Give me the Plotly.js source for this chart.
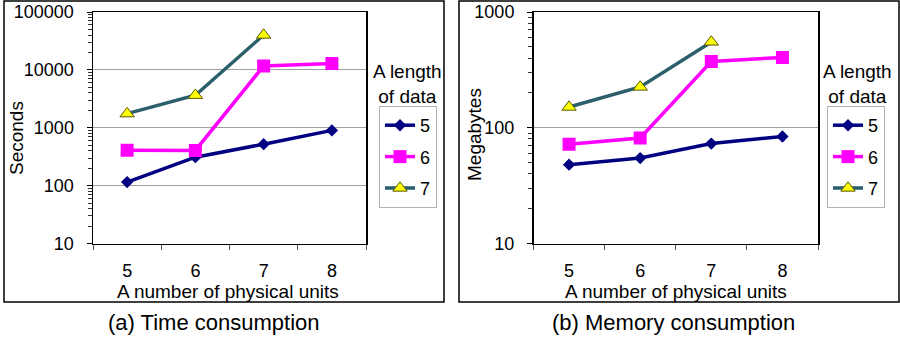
<!DOCTYPE html>
<html><head><meta charset="utf-8">
<script src="https://cdn.plot.ly/plotly-3.0.1.min.js"></script>
<style>html,body{margin:0;padding:0;background:#fff}#chart{width:900px;height:337px}</style>
</head><body><div id="chart"></div>
<script>
// ---- data ----
const units = ['5', '6', '7', '8'];
const seriesNames = ['5', '6', '7'];
const timeLen5 = [115, 310, 520, 900];
const timeLen6 = [410, 405, 11700, 12900];
const timeLen7 = [1750, 3650, 40000];
const memLen5 = [48, 54.7, 73, 84];
const memLen6 = [72, 81.5, 374, 405];
const memLen7 = [151, 225, 551];
const timeTickVals = [10, 100, 1000, 10000, 100000];
const timeTickText = ['10', '100', '1000', '10000', '100000'];
const memTickVals = [10, 100, 1000];
const memTickText = ['10', '100', '1000'];

// ---- styles ----
const FONT = 'Liberation Sans, Arial, sans-serif';
const styles = [
  {color: '#000080', symbol: 'diamond', size: 9.5, lineColor: '#000080'},
  {color: '#FF00FF', symbol: 'square', size: 13, lineColor: '#FF00FF'},
  {color: '#FFFF00', symbol: 'triangle-up', size: 12.5, lineColor: '#2B5F6C'}
];

function mk(y, i, xa, ya, leg) {
  const s = styles[i];
  return {
    type: 'scatter', mode: 'lines+markers',
    x: units.slice(0, y.length), y: y,
    name: seriesNames[i], legend: leg, legendgroup: leg + 'g' + i,
    xaxis: xa, yaxis: ya,
    line: {color: s.lineColor, width: 3.5},
    marker: {symbol: s.symbol, size: s.size, color: s.color,
             line: {color: i === 2 ? '#555500' : s.color, width: i === 2 ? 1 : 0}}
  };
}

const data = [
  mk(timeLen5, 0, 'x', 'y', 'legend'),
  mk(timeLen6, 1, 'x', 'y', 'legend'),
  mk(timeLen7, 2, 'x', 'y', 'legend'),
  mk(memLen5, 0, 'x2', 'y2', 'legend2'),
  mk(memLen6, 1, 'x2', 'y2', 'legend2'),
  mk(memLen7, 2, 'x2', 'y2', 'legend2')
];

const W = 900, H = 337;
const px = v => v / W, py = v => 1 - v / H;

// minor log ticks (2..9 within each decade) for the axes
function minorOf(decades) {
  const out = [];
  decades.slice(0, -1).forEach(d => { for (let k = 2; k <= 9; k++) out.push(d * k); });
  return out;
}

function xax(dom, anchor) {
  return {
    domain: dom, anchor: anchor, type: 'category', categoryorder: 'array', categoryarray: units,
    range: [-0.5, 3.5], tickson: 'boundaries', ticks: 'outside', ticklen: 5,
    tickcolor: '#555', showline: true, linecolor: '#000', linewidth: 1.5, mirror: true,
    showgrid: false, zeroline: false, ticklabelstandoff: 10,
    tickfont: {family: FONT, size: 18, color: '#000'}, fixedrange: true
  };
}
function yax(dom, anchor, rng, tv, tt) {
  return {
    domain: dom, anchor: anchor, type: 'log', range: rng, tickmode: 'array', tickvals: tv, ticktext: tt,
    ticks: 'outside', ticklen: 5, tickcolor: '#000',
    minor: {tickmode: 'array', tickvals: minorOf(tv), ticks: 'outside', ticklen: 4,
            tickcolor: '#333', tickwidth: 1, showgrid: false},
    showline: true, linecolor: '#000', linewidth: 1.5, mirror: true,
    showgrid: true, gridcolor: '#a0a0a0', gridwidth: 1, zeroline: false,
    ticklabelstandoff: 9,
    tickfont: {family: FONT, size: 18, color: '#000'}, fixedrange: true
  };
}

const ydom = [py(243.5), py(12)];
const legBase = {
  bgcolor: 'rgba(0,0,0,0)', bordercolor: '#b0b0b0', borderwidth: 1,
  font: {family: FONT, size: 18, color: '#000'}, tracegroupgap: 5,
  traceorder: 'grouped', xanchor: 'left', yanchor: 'top', itemclick: false
};

const ann = (text, x, y, size, angle) => ({
  text: text, xref: 'paper', yref: 'paper', x: px(x), y: py(y),
  xanchor: 'center', yanchor: 'middle', showarrow: false, textangle: angle || 0,
  font: {family: FONT, size: size, color: '#000'}
});

const layout = {
  width: W, height: H, margin: {l: 0, r: 0, t: 0, b: 0},
  paper_bgcolor: '#fff', plot_bgcolor: '#fff', showlegend: true,
  xaxis: xax([px(93), px(366)], 'y'),
  yaxis: yax(ydom, 'x', [1, 5], timeTickVals, timeTickText),
  xaxis2: xax([px(533.5), px(818)], 'y2'),
  yaxis2: yax(ydom, 'x2', [1, 3], memTickVals, memTickText),
  legend: Object.assign({}, legBase, {x: px(379), y: py(106)}),
  legend2: Object.assign({}, legBase, {x: px(827), y: py(106)}),
  annotations: [
    ann('A number of physical units', 228, 291, 19),
    ann('A number of physical units', 676, 291, 19),
    ann('Seconds', 17, 138, 19, -90),
    ann('Megabytes', 475, 135, 19, -90),
    ann('A length<br>of data', 407, 84, 19),
    ann('A length<br>of data', 857, 84, 19),
    ann('(a) Time consumption', 214, 322, 22),
    ann('(b) Memory consumption', 673, 322, 22)
  ],
  shapes: [
    {type: 'rect', xref: 'paper', yref: 'paper', x0: px(4), x1: px(444), y0: py(302), y1: py(1),
     line: {color: '#000', width: 1.5}},
    {type: 'rect', xref: 'paper', yref: 'paper', x0: px(459), x1: px(899), y0: py(302), y1: py(1),
     line: {color: '#000', width: 1.5}}
  ]
};

Plotly.newPlot('chart', data, layout, {staticPlot: true, displayModeBar: false});
</script></body></html>
